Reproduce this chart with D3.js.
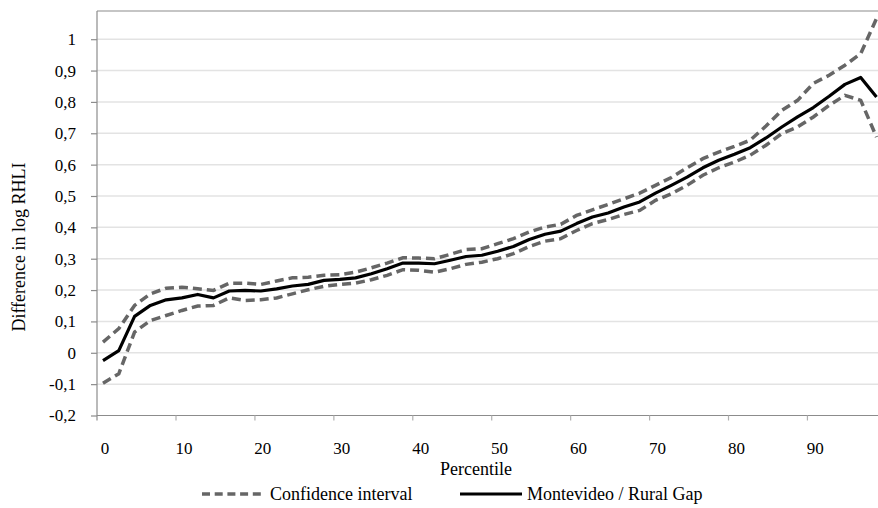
<!DOCTYPE html>
<html>
<head>
<meta charset="utf-8">
<script src="https://cdn.jsdelivr.net/npm/d3@7/dist/d3.min.js"></script>
<style>
  html, body { margin: 0; padding: 0; background: #fff; }
  svg { display: block; }
  svg text { font-family: "Liberation Serif", "Tinos", "Times New Roman", "DejaVu Serif", serif !important; fill: #000; }
</style>
</head>
<body>
<svg id="chart" width="878" height="508"></svg>
<script>
// ---- data ----
const percentiles = [0,2,4,6,8,10,12,14,16,18,20,22,24,26,28,30,32,34,36,38,40,42,44,46,48,50,52,54,56,58,60,62,64,66,68,70,72,74,76,78,80,82,84,86,88,90,92,94,96,98];
const gap = [-0.025,0.007,0.116,0.151,0.169,0.175,0.186,0.175,0.197,0.199,0.197,0.204,0.213,0.218,0.231,0.234,0.239,0.252,0.268,0.286,0.286,0.284,0.295,0.307,0.311,0.324,0.339,0.361,0.378,0.388,0.412,0.433,0.446,0.465,0.481,0.509,0.534,0.560,0.590,0.614,0.633,0.654,0.685,0.720,0.752,0.782,0.818,0.856,0.878,0.816];
const upper = [0.034,0.077,0.151,0.188,0.206,0.209,0.204,0.199,0.222,0.222,0.218,0.229,0.239,0.241,0.247,0.249,0.257,0.271,0.286,0.303,0.302,0.300,0.314,0.329,0.332,0.348,0.364,0.385,0.401,0.410,0.438,0.456,0.473,0.491,0.509,0.534,0.559,0.590,0.619,0.640,0.658,0.678,0.723,0.773,0.805,0.859,0.885,0.917,0.954,1.066];
const lower = [-0.097,-0.067,0.066,0.103,0.119,0.135,0.149,0.151,0.175,0.167,0.169,0.175,0.188,0.201,0.212,0.218,0.222,0.233,0.247,0.265,0.263,0.257,0.268,0.282,0.289,0.300,0.316,0.339,0.356,0.364,0.390,0.412,0.425,0.441,0.454,0.486,0.507,0.534,0.566,0.590,0.608,0.630,0.662,0.699,0.720,0.752,0.789,0.821,0.805,0.688];
const xTickLabels = [0,10,20,30,40,50,60,70,80,90];
const yTicks = [-0.2,-0.1,0,0.1,0.2,0.3,0.4,0.5,0.6,0.7,0.8,0.9,1];
const legendLabels = ["Confidence interval", "Montevideo / Rural Gap"];

// ---- layout ----
const FONT = '"Liberation Serif", "Tinos", "Times New Roman", "DejaVu Serif", serif';
const svg = d3.select("#chart");
const plotLeft = 97, plotRight = 878, plotTop = 11;
const x = d3.scaleLinear().domain([0, 98]).range([103, 876.5]);
const y = d3.scaleLinear().domain([-0.2, 1]).range([415.5, 39.2]);
const fmt = v => (Math.abs(v) < 1e-9 ? "0" : d3.format(".1~f")(v).replace(".", ",").replace("−", "-"));

// gridlines
svg.append("g").selectAll("line").data(yTicks.filter(v => v > -0.2)).join("line")
  .attr("x1", plotLeft).attr("x2", plotRight)
  .attr("y1", d => y(d)).attr("y2", d => y(d))
  .attr("stroke", "#e3e3e3").attr("stroke-width", 1.5);

// top border
svg.append("line").attr("x1", plotLeft).attr("x2", plotRight)
  .attr("y1", plotTop).attr("y2", plotTop)
  .attr("stroke", "#8c8c8c").attr("stroke-width", 1.2);

// y axis
const yAxis = d3.axisLeft(y).tickValues(yTicks).tickFormat(fmt).tickSize(6).tickPadding(15);
const gy = svg.append("g").attr("transform", `translate(${plotLeft},0)`).call(yAxis)
  .attr("font-family", FONT).attr("font-size", 17);
gy.select(".domain").remove();
gy.append("line").attr("x1", 0).attr("x2", 0).attr("y1", plotTop).attr("y2", y(-0.2) + 5)
  .attr("stroke", "#8c8c8c").attr("stroke-width", 1.2);
gy.selectAll(".tick line").attr("stroke", "#8c8c8c").attr("stroke-width", 1.2);
gy.selectAll(".tick text").attr("fill", "#000");

// x axis
const gx = svg.append("g").attr("transform", `translate(0,${y(-0.2)})`);
gx.append("line").attr("x1", plotLeft).attr("x2", plotRight).attr("y1", 0).attr("y2", 0)
  .attr("stroke", "#8c8c8c").attr("stroke-width", 1.2);
gx.selectAll("line.tk").data(xTickLabels.filter(d => d > 0)).join("line").attr("class", "tk")
  .attr("x1", d => x(d - 0.75)).attr("x2", d => x(d - 0.75))
  .attr("y1", 0).attr("y2", 5).attr("stroke", "#b0b0b0").attr("stroke-width", 1.2);
gx.selectAll("text").data(xTickLabels).join("text")
  .attr("x", d => x(d + 0.25)).attr("y", 38)
  .attr("text-anchor", "middle").attr("font-size", 17).text(d => d);

// axis titles
svg.append("text").attr("x", 476).attr("y", 475).attr("text-anchor", "middle")
  .attr("font-size", 18).text("Percentile");
svg.append("text").attr("transform", "translate(25,247) rotate(-90)")
  .attr("text-anchor", "middle").attr("font-size", 18).text("Difference in log RHLI");

// lines
const line = d3.line().x((d, i) => x(percentiles[i])).y(d => y(d));
svg.append("path").datum(upper).attr("d", line).attr("fill", "none")
  .attr("stroke", "#666").attr("stroke-width", 3.5).attr("stroke-dasharray", "9,5");
svg.append("path").datum(lower).attr("d", line).attr("fill", "none")
  .attr("stroke", "#666").attr("stroke-width", 3.5).attr("stroke-dasharray", "9,5");
svg.append("path").datum(gap).attr("d", line).attr("fill", "none")
  .attr("stroke", "#000").attr("stroke-width", 3.2).attr("stroke-linejoin", "round");

// legend
const lg = svg.append("g");
lg.append("line").attr("x1", 202).attr("x2", 265).attr("y1", 494).attr("y2", 494)
  .attr("stroke", "#666").attr("stroke-width", 3.5).attr("stroke-dasharray", "8,4.7");
lg.append("text").attr("x", 270).attr("y", 500).attr("font-size", 18).text(legendLabels[0]);
lg.append("line").attr("x1", 460).attr("x2", 522).attr("y1", 494).attr("y2", 494)
  .attr("stroke", "#000").attr("stroke-width", 3.2);
lg.append("text").attr("x", 527).attr("y", 500).attr("font-size", 18).text(legendLabels[1]);
</script>
</body>
</html>
